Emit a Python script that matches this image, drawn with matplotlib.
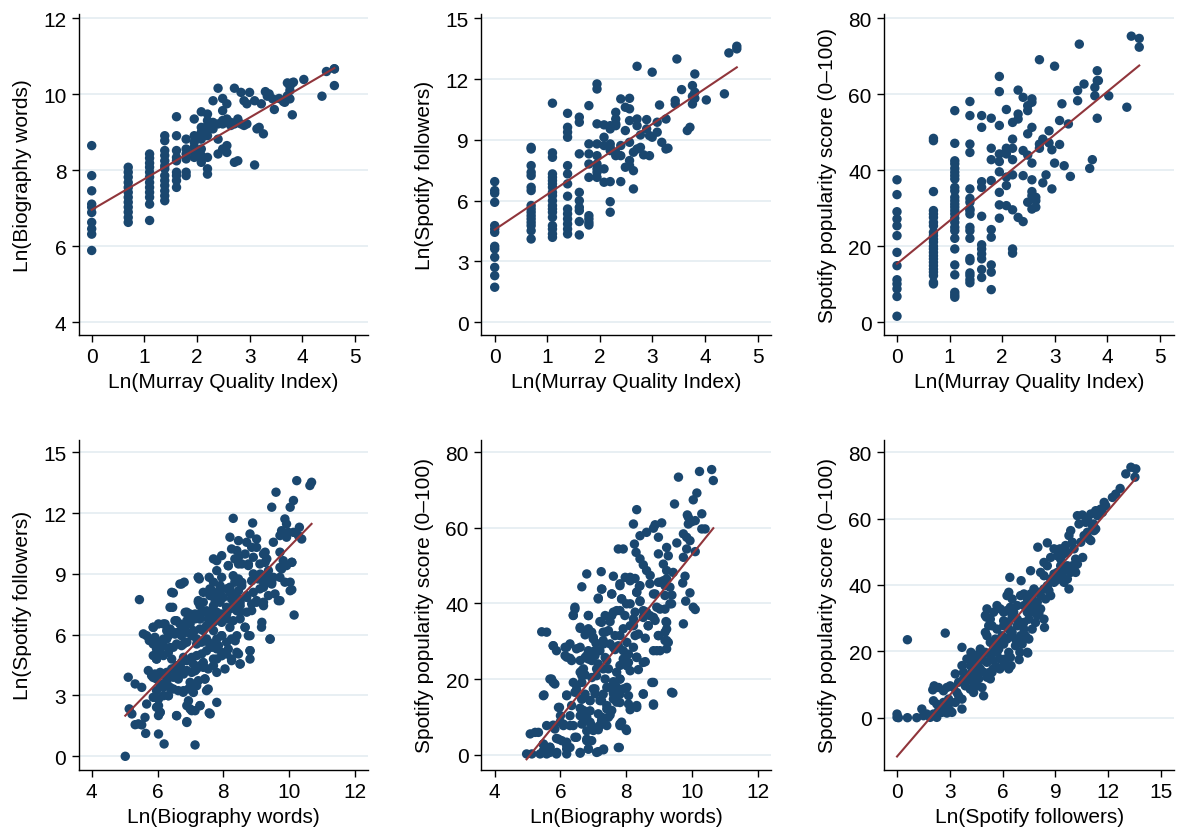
import numpy as np
import matplotlib
matplotlib.use("Agg")
import matplotlib.pyplot as plt

plt.rcParams['font.family'] = ['Liberation Sans', 'DejaVu Sans']

NAVY = '#1a476f'
MAROON = '#90353b'
GRID = '#e6eef2'

# ---- top row: one entry per Murray Quality Index value, points listed per column ----
mqi_cols = [1, 2, 3, 4, 5, 6, 7, 8, 9, 10, 11, 12, 13, 14, 15, 16, 17, 18, 19, 20,
            22, 23, 24, 25, 26, 27, 28, 29, 31, 32, 35, 38, 39, 41, 43, 45, 46, 56, 79, 86, 100]

bio_by_mqi = [
    [8.65, 7.86, 7.46, 7.11, 7.03, 6.89, 6.63, 6.46, 6.32, 5.89],
    [8.08, 7.95, 7.82, 7.68, 7.55, 7.42, 7.29, 7.16, 7.03, 6.9, 6.76, 6.63],
    [8.43, 8.32, 8.19, 8.08, 7.95, 7.82, 7.68, 7.55, 7.42, 7.29, 7.11, 6.68],
    [8.91, 8.78, 8.52, 8.39, 8.25, 8.12, 8.04, 7.86, 7.73, 7.6, 7.46, 7.33, 7.2],
    [9.41, 8.91, 8.52, 8.34, 8.25, 7.95, 7.86, 7.73, 7.55],
    [8.82, 8.56, 8.43, 8.3, 7.95, 7.86],
    [9.35, 8.91, 8.74, 8.61, 8.47, 8.34],
    [9.54, 9.13, 9.0, 8.82, 8.56, 8.39, 8.21],
    [9.48, 9.31, 9.18, 9.04, 8.91, 8.34, 8.04, 7.9],
    [9.83, 9.26, 9.18, 9.09],
    [10.16, 9.22, 8.82, 8.43],
    [9.89, 9.57, 9.31, 9.22, 8.56],
    [9.75, 9.35, 9.26, 8.65, 8.47],
    [9.26, 9.18],
    [10.16, 9.22, 8.21],
    [9.35, 8.25],
    [10.05, 9.22],
    [9.83, 9.18],
    [9.75, 9.22],
    [10.05],
    [9.83, 8.14],
    [9.09],
    [9.13],
    [9.75],
    [8.96],
    [10.07],
    [9.95],
    [10.01],
    [9.88],
    [9.6],
    [9.89],
    [9.81],
    [9.79],
    [10.3, 9.96],
    [10.21, 10.1, 9.88],
    [10.3, 9.46],
    [10.32],
    [10.39],
    [9.95],
    [10.6],
    [10.67, 10.23, 10.67],
]

followers_by_mqi = [
    [6.94, 6.5, 6.37, 5.92, 4.77, 4.6, 4.44, 3.75, 3.62, 3.21, 2.71, 2.3, 1.73],
    [8.63, 8.55, 7.73, 7.4, 7.24, 6.66, 6.5, 5.76, 5.59, 5.43, 5.26, 5.1, 4.93, 4.77, 4.52, 4.11],
    [10.81, 8.36, 8.14, 7.32, 7.15, 6.99, 6.83, 6.66, 6.41, 6.25, 6.0, 5.76, 5.59, 5.43, 5.18,
     4.77, 4.6, 4.36, 4.19],
    [10.31, 9.62, 9.38, 9.13, 7.73, 7.32, 6.83, 6.22, 5.59, 5.35, 5.1, 4.85, 4.6, 4.36],
    [10.12, 9.87, 8.31, 6.41, 6.0, 5.67, 5.51, 4.97, 4.31],
    [10.69, 8.8, 8.31, 7.81, 7.15, 5.26, 5.1, 4.93, 4.8],
    [11.76, 11.51, 9.79, 8.8, 8.22, 7.81, 7.57, 7.4, 7.15],
    [9.74, 9.13, 8.72, 7.57, 6.91],
    [9.7, 9.54, 8.8, 8.63, 8.47, 6.94, 5.95, 5.43],
    [10.36, 10.03, 9.79, 9.7, 8.39, 8.22],
    [11.02, 8.72, 8.22, 6.94],
    [10.61, 9.46, 7.65],
    [11.05, 10.53, 9.95, 8.88, 7.98, 7.73],
    [8.39, 7.48, 6.58],
    [12.63, 10.03, 9.7, 8.55],
    [9.24, 8.63],
    [8.26],
    [10.0, 9.54],
    [9.21, 8.22],
    [12.34, 9.13],
    [9.87, 9.38],
    [10.72],
    [8.88],
    [],
    [10.03, 8.55],
    [8.59],
    [],
    [],
    [10.94, 10.77],
    [12.99],
    [11.48],
    [],
    [9.46],
    [9.62],
    [11.68, 11.15, 10.77],
    [12.25, 11.35, 11.05],
    [],
    [10.97],
    [11.27],
    [13.29],
    [13.62, 13.49],
]

popularity_by_mqi = [
    [37.5, 33.6, 29.1, 27.2, 25.4, 22.8, 18.4, 14.9, 11.2, 10.1, 8.8, 6.8, 1.6],
    [48.4, 47.8, 34.4, 29.4, 28.5, 27.6, 26.3, 25.4, 23.7, 22.8, 21.9, 21.1, 20.0, 19.3, 18.4,
     17.5, 16.7, 15.8, 14.9, 14.0, 13.2, 12.3, 10.5, 10.1],
    [55.7, 47.1, 42.5, 41.7, 40.5, 39.5, 38.6, 37.7, 35.5, 34.6, 32.9, 32.0, 31.1, 30.3, 29.4,
     28.5, 27.4, 26.3, 25.0, 24.1, 22.1, 19.3, 15.1, 12.5, 7.9, 7.2, 6.6],
    [58.1, 54.4, 46.9, 44.7, 35.1, 32.6, 31.6, 29.8, 29.4, 28.5, 25.0, 24.1, 22.1, 16.8, 16.2,
     13.0, 12.3, 11.2, 10.4],
    [54.4, 51.3, 37.0, 35.5, 27.9, 20.4, 19.3, 18.0, 16.7, 13.9, 11.8],
    [53.7, 45.8, 42.8, 37.3, 24.4, 22.4, 15.1, 13.2, 8.6],
    [64.7, 60.7, 51.8, 44.3, 42.3, 39.6, 34.2, 30.9, 27.4],
    [56.0, 45.8, 45.2, 44.3, 38.2, 36.0, 30.7],
    [52.6, 48.2, 45.8, 42.8, 38.8, 29.6, 19.3, 18.2],
    [61.1, 54.8, 53.5, 27.6],
    [59.2, 45.2, 38.6, 26.5],
    [57.0, 55.7, 49.6, 44.0, 31.6],
    [58.8, 57.9, 51.3, 41.9, 37.5, 34.4, 33.3, 29.8],
    [32.9, 32.0, 30.3],
    [69.1, 46.9, 45.8],
    [48.2, 36.7],
    [38.8],
    [50.4, 47.2],
    [45.4, 35.1],
    [67.4, 41.9],
    [53.1, 46.8],
    [57.5],
    [41.2],
    [],
    [52.2],
    [38.4],
    [],
    [],
    [61.0, 58.3],
    [73.2],
    [62.7],
    [],
    [40.5],
    [42.8],
    [61.8, 59.6],
    [66.2, 63.6, 53.7],
    [63.6],
    [59.6],
    [56.6],
    [75.3],
    [74.7, 72.4],
]

# ---- bottom row: (x, y) pairs ----
bio_vs_followers = [
    (10.23, 13.60), (10.68, 13.52), (10.63, 13.36), (9.60, 13.03), (10.13, 12.62), (9.47, 12.29),
    (10.03, 12.29), (8.30, 11.74), (8.89, 11.51), (9.87, 11.71), (9.92, 11.46), (10.31, 11.30),
    (8.81, 10.97), (8.20, 10.81), (8.46, 10.64), (8.71, 10.56), (9.01, 10.72), (9.52, 10.56),
    (9.77, 11.13), (9.82, 10.97), (9.97, 11.05), (10.13, 11.05), (9.72, 10.89), (9.92, 10.81),
    (10.28, 10.89), (10.38, 10.72), (8.25, 10.23), (8.41, 10.15), (8.66, 9.98), (8.86, 10.31),
    (9.01, 10.31), (9.22, 9.98), (9.27, 10.07), (9.72, 10.07), (7.80, 9.65), (7.95, 9.90),
    (7.70, 9.74), (8.15, 9.41), (8.35, 9.74), (8.46, 9.82), (8.56, 9.49), (8.76, 9.41),
    (8.91, 9.82), (9.11, 9.49), (9.32, 9.74), (9.82, 9.65), (9.92, 9.41), (10.08, 9.57),
    (9.77, 9.24), (9.37, 9.16), (7.80, 9.16), (7.95, 8.83), (8.30, 8.91), (8.35, 8.59),
    (8.46, 8.75), (8.56, 8.42), (8.91, 9.00), (9.06, 8.75), (9.22, 8.59), (9.32, 8.91),
    (9.47, 8.59), (9.52, 8.83), (9.72, 8.83), (9.87, 8.59), (10.03, 8.59), (10.08, 8.22),
    (9.57, 8.01), (9.72, 7.68), (10.15, 6.97), (9.37, 7.93), (9.22, 8.34), (9.11, 8.26),
    (8.91, 8.09), (8.71, 7.93), (8.51, 7.76), (8.30, 7.93), (8.20, 8.09), (8.10, 8.26),
    (7.90, 8.42), (7.59, 8.26), (7.59, 7.93), (7.80, 7.93), (7.90, 8.17), (9.22, 7.60),
    (9.01, 7.60), (8.86, 7.52), (8.51, 7.11), (8.30, 7.43), (8.20, 7.27), (8.10, 7.35),
    (7.95, 7.02), (7.80, 7.11), (7.70, 6.94), (7.54, 6.78), (7.44, 7.11), (7.29, 7.02),
    (7.24, 7.60), (7.27, 8.75), (7.24, 8.83), (6.68, 8.50), (6.81, 8.59), (6.48, 8.06),
    (6.46, 7.35), (6.89, 7.11), (7.14, 6.78), (6.99, 6.53), (6.89, 6.69), (6.78, 6.45),
    (6.68, 6.53), (6.53, 6.69), (6.38, 6.28), (6.28, 6.20), (6.18, 6.53), (6.03, 6.53),
    (5.87, 6.37), (5.57, 6.04), (5.67, 5.95), (5.75, 5.71), (5.87, 5.54), (6.03, 5.63),
    (6.18, 5.46), (6.28, 5.79), (6.33, 5.95), (6.48, 6.12), (6.63, 6.12), (6.73, 5.95),
    (6.89, 6.12), (7.09, 6.20), (7.29, 6.28), (7.49, 6.45), (7.70, 6.61), (7.90, 6.69),
    (8.10, 6.78), (8.30, 6.69), (8.51, 6.78), (8.66, 6.37), (8.76, 5.95), (8.41, 5.95),
    (8.25, 5.79), (8.10, 5.63), (7.95, 5.95), (7.80, 5.79), (7.70, 5.54), (7.49, 5.79),
    (7.34, 5.63), (7.19, 5.79), (7.04, 5.95), (6.89, 5.63), (6.73, 5.46), (6.58, 5.54),
    (6.48, 5.38), (6.33, 5.13), (6.18, 4.97), (5.97, 4.80), (5.87, 4.97), (6.08, 5.13),
    (5.72, 4.23), (5.82, 3.98), (5.97, 3.82), (6.13, 4.06), (6.28, 4.14), (6.43, 4.31),
    (6.58, 4.47), (6.73, 4.64), (6.89, 4.72), (7.04, 4.88), (7.19, 4.97), (7.34, 5.05),
    (7.49, 5.21), (7.65, 5.38), (7.80, 5.30), (7.95, 5.13), (8.10, 5.05), (8.25, 4.80),
    (8.41, 5.13), (8.51, 4.56), (8.81, 5.21), (9.42, 5.79), (9.16, 6.37), (8.81, 4.80),
    (7.80, 4.80), (7.70, 4.47), (7.54, 4.31), (7.39, 4.39), (7.29, 4.47), (7.19, 4.31),
    (7.04, 4.14), (6.89, 4.23), (6.73, 4.31), (6.58, 4.14), (6.48, 3.90), (6.28, 3.65),
    (6.18, 3.40), (6.08, 3.57), (5.92, 4.06), (5.11, 3.90), (5.32, 3.57), (5.52, 3.40),
    (5.87, 2.91), (6.03, 2.83), (6.18, 2.99), (6.33, 2.99), (6.48, 3.32), (6.63, 3.24),
    (6.78, 3.16), (6.94, 3.32), (7.09, 3.49), (7.24, 3.73), (7.44, 3.82), (7.54, 3.32),
    (6.89, 2.50), (6.99, 2.34), (7.14, 2.25), (7.29, 2.50), (7.80, 2.66), (6.58, 2.01),
    (6.89, 1.71), (7.57, 2.14), (6.03, 2.01), (6.08, 2.17), (5.97, 2.42), (5.67, 2.58),
    (5.62, 1.92), (5.42, 1.60), (5.52, 1.55), (5.32, 1.56), (5.14, 2.34), (5.22, 2.09),
    (6.03, 1.10), (5.64, 1.13), (6.20, 0.61), (7.14, 0.56), (5.02, 0.00), (6.99, 7.02),
    (7.29, 7.43), (7.59, 7.11), (7.70, 7.43), (7.90, 7.60), (8.51, 7.43), (7.39, 8.09),
    (7.70, 8.59), (7.57, 8.83), (8.71, 7.11), (8.86, 7.19), (5.45, 7.73), (5.92, 5.87),
    (8.15, 9.40), (8.46, 9.49), (8.76, 9.49), (9.27, 9.57), (9.72, 9.32), (10.08, 9.57),
    (8.36, 8.75), (8.56, 8.58), (8.86, 8.66), (9.12, 8.99), (9.32, 8.58), (9.47, 8.50),
    (6.73, 8.50), (7.24, 8.83), (6.43, 8.09), (7.65, 8.17), (7.90, 8.25), (8.20, 8.34),
    (8.46, 8.17), (8.71, 7.84), (7.24, 7.68), (7.39, 7.60), (7.75, 7.68), (8.00, 7.84),
    (8.25, 7.76), (8.51, 7.60), (9.01, 7.68), (9.22, 7.43), (9.67, 7.68), (10.03, 8.17),
    (6.38, 7.35), (6.84, 7.10), (7.14, 7.02), (7.49, 7.18), (7.80, 7.02), (8.10, 7.02),
    (8.41, 7.18), (5.87, 6.36), (6.23, 6.53), (6.58, 6.69), (6.94, 6.69), (7.29, 6.77),
    (7.60, 6.69), (7.95, 6.61), (8.20, 6.36), (8.66, 6.36), (9.17, 6.61), (6.18, 5.78),
    (6.53, 6.03), (6.84, 6.20), (7.09, 6.11), (7.39, 6.20), (7.70, 6.20), (7.95, 5.95),
    (8.36, 5.70), (8.81, 5.95), (9.42, 5.78), (5.97, 5.29), (6.38, 5.37), (6.79, 5.54),
    (7.19, 5.54), (7.55, 5.62), (7.85, 5.46), (8.15, 5.29), (8.46, 5.05), (8.81, 5.21),
    (5.97, 4.80), (6.43, 4.80), (6.79, 4.88), (7.09, 4.55), (7.39, 4.63), (7.70, 4.80),
    (7.95, 4.96), (8.25, 4.72), (8.51, 4.55), (6.08, 4.14), (6.48, 4.31), (6.79, 4.06),
    (7.14, 4.22), (7.39, 4.47), (7.80, 4.14), (8.05, 4.31), (5.87, 3.89), (6.28, 3.81),
    (6.63, 3.81), (6.99, 3.65), (7.44, 3.81), (7.19, 3.48), (5.97, 3.24), (6.38, 3.40),
    (6.79, 3.24), (7.09, 3.15), (7.49, 3.24), (5.92, 2.91), (6.33, 2.99), (6.94, 2.74),
    (7.29, 2.50), (6.03, 2.50), (6.08, 2.17), (6.58, 2.00), (7.04, 2.25), (7.60, 2.09),
    (6.89, 1.67),
]

bio_vs_popularity = [
    (10.60, 75.4), (10.23, 74.9), (10.65, 72.5), (9.59, 73.4), (10.15, 69.2), (10.04, 67.4),
    (9.47, 66.3), (8.32, 64.8), (10.30, 63.7), (9.86, 63.4), (9.89, 62.8), (9.99, 61.6),
    (10.10, 61.9), (9.89, 61.0), (8.22, 61.0), (9.08, 61.3), (8.88, 60.8), (8.83, 59.9),
    (10.30, 59.7), (10.40, 59.7), (8.62, 58.8), (8.42, 57.9), (8.98, 57.5), (9.74, 58.4),
    (9.84, 57.5), (9.94, 56.6), (9.54, 56.0), (8.25, 55.7), (7.76, 54.4), (7.91, 54.4),
    (9.23, 54.8), (9.84, 54.4), (8.30, 53.5), (10.10, 53.7), (8.98, 53.1), (9.28, 52.6),
    (9.74, 52.2), (8.42, 51.8), (9.13, 50.4), (8.52, 50.2), (8.62, 48.7), (9.23, 48.7),
    (9.43, 48.2), (6.80, 47.8), (7.24, 48.4), (8.73, 47.4), (7.61, 47.2), (7.97, 46.9),
    (8.12, 46.9), (8.27, 46.6), (9.79, 47.2), (9.23, 46.5), (8.98, 45.6), (9.72, 45.4),
    (7.81, 44.7), (6.65, 44.4), (8.40, 44.5), (9.18, 44.7), (7.26, 43.8), (8.32, 42.9),
    (7.56, 42.5), (8.88, 42.5), (9.39, 42.2), (9.94, 42.8), (7.15, 41.4), (7.86, 41.2),
    (8.42, 40.5), (9.81, 40.6), (8.12, 39.9), (9.33, 39.9), (6.44, 39.0), (8.93, 39.0),
    (10.04, 39.0), (10.10, 38.4), (7.81, 38.1), (7.61, 37.7), (8.62, 37.7), (9.18, 38.5),
    (6.39, 36.9), (6.85, 36.8), (7.36, 36.8), (8.22, 35.9), (8.52, 36.3), (8.83, 36.3),
    (7.20, 35.2), (7.51, 35.2), (9.21, 35.2), (9.74, 34.6), (8.12, 34.1), (8.67, 34.1),
    (6.60, 33.4), (6.95, 32.4), (7.30, 32.4), (5.43, 32.5), (5.58, 32.4), (6.85, 32.8),
    (7.46, 32.8), (9.23, 33.2), (9.18, 32.4), (7.81, 31.5), (8.27, 31.5), (8.58, 30.8),
    (8.98, 31.5), (7.00, 30.6), (7.30, 30.2), (9.23, 30.2), (7.51, 29.3), (6.29, 29.3),
    (5.78, 28.8), (5.88, 27.5), (6.60, 28.4), (7.76, 28.8), (8.02, 29.7), (8.22, 28.4),
    (6.85, 27.5), (7.20, 27.5), (7.66, 27.8), (8.83, 27.5), (9.03, 27.5), (9.28, 29.7),
    (6.14, 26.2), (6.29, 25.5), (6.75, 25.7), (7.05, 26.2), (7.36, 25.7), (8.32, 25.7),
    (7.91, 25.3), (6.95, 24.9), (7.41, 24.9), (6.34, 24.9), (8.58, 24.6), (8.02, 23.5),
    (7.30, 22.7), (6.65, 22.2), (8.37, 22.5), (8.12, 22.2), (7.71, 21.8), (6.75, 21.1),
    (7.10, 20.9), (5.73, 20.0), (5.83, 18.7), (6.39, 19.1), (6.65, 19.1), (7.81, 20.0),
    (7.61, 19.3), (8.02, 17.8), (8.83, 19.1), (7.05, 17.4), (7.41, 17.8), (7.71, 17.8),
    (6.49, 17.2), (6.19, 15.8), (5.50, 15.8), (6.75, 16.0), (7.30, 16.0), (7.61, 16.5),
    (7.81, 16.0), (8.52, 16.0), (9.42, 16.3), (6.65, 14.7), (6.90, 14.3), (7.20, 14.3),
    (7.61, 14.7), (7.81, 13.8), (8.32, 13.0), (8.83, 13.1), (8.12, 11.9), (5.97, 12.5),
    (6.60, 12.3), (6.90, 11.6), (7.41, 12.1), (6.00, 10.3), (6.29, 10.3), (6.80, 9.9),
    (7.26, 9.9), (7.51, 10.5), (6.09, 8.1), (5.78, 7.8), (6.39, 7.7), (6.65, 8.1),
    (6.95, 7.7), (7.20, 7.8), (7.81, 8.1), (7.99, 6.8), (6.80, 6.3), (7.15, 6.6),
    (5.08, 5.5), (5.23, 5.9), (5.33, 5.9), (6.44, 4.6), (6.80, 3.7), (6.95, 3.7),
    (5.88, 4.3), (6.04, 3.7), (5.48, 2.8), (6.19, 2.4), (6.29, 1.9), (6.85, 1.5),
    (7.15, 0.8), (7.31, 1.3), (7.79, 1.9), (4.97, 0.2), (5.13, 0.2), (5.38, 0.2),
    (5.48, 1.1), (5.58, 0.2), (5.68, 0.6), (5.88, 0.2), (6.19, 0.2), (6.60, 0.4),
    (5.68, 1.9), (6.75, 31.7), (7.08, 29.5), (6.14, 28.4), (6.95, 20.4), (7.36, 20.0),
    (7.25, 43.8), (7.56, 42.5), (7.15, 41.2), (7.81, 45.2), (8.12, 46.0), (8.42, 44.7),
    (8.32, 43.0), (8.72, 45.2), (9.03, 45.6), (7.86, 41.2), (8.01, 39.9), (8.42, 40.7),
    (8.83, 42.5), (9.18, 42.1), (9.38, 39.9), (9.13, 46.0), (9.33, 44.3), (6.44, 38.5),
    (6.39, 36.8), (6.85, 36.8), (7.25, 35.0), (7.56, 36.8), (7.71, 38.1), (7.96, 36.8),
    (8.27, 37.7), (8.52, 38.1), (8.72, 36.8), (9.03, 38.5), (6.60, 33.7), (6.85, 33.3),
    (7.00, 31.0), (7.36, 32.4), (7.66, 31.5), (7.91, 33.3), (8.22, 34.1), (8.37, 31.9),
    (8.67, 34.1), (8.98, 31.5), (9.18, 30.2), (9.23, 35.0), (8.88, 35.5), (5.78, 28.8),
    (6.19, 28.4), (6.49, 28.0), (6.80, 26.2), (7.05, 27.5), (7.31, 29.3), (7.61, 28.4),
    (7.91, 27.5), (8.07, 26.6), (8.32, 25.8), (8.52, 24.4), (8.93, 27.5), (9.23, 28.0),
    (6.19, 25.8), (6.60, 24.9), (6.85, 25.3), (7.15, 24.0), (7.46, 22.7), (6.70, 22.7),
    (7.10, 22.7), (7.81, 23.6), (8.07, 24.4), (6.60, 21.8), (6.65, 20.9), (5.68, 20.0),
    (5.78, 19.1), (6.49, 18.3), (6.44, 16.5), (7.00, 17.4), (7.05, 16.1), (7.51, 17.8),
    (7.66, 18.3), (7.81, 20.0), (7.61, 16.1), (7.91, 17.4), (8.07, 15.6), (7.71, 13.9),
    (8.07, 13.4), (8.32, 12.5), (8.52, 16.1), (8.78, 19.1), (8.83, 13.4), (9.38, 16.5),
    (5.48, 15.6), (6.19, 15.6), (6.65, 14.7), (6.90, 14.3), (7.25, 14.3), (7.41, 13.0),
    (7.56, 11.7), (7.15, 10.8), (7.46, 9.9), (6.70, 11.7), (6.60, 10.3), (6.34, 13.0),
    (5.94, 12.5), (5.99, 8.6), (6.29, 7.7), (6.70, 8.6), (6.90, 8.6), (7.25, 9.0),
    (7.41, 7.7), (7.81, 7.7), (8.01, 6.4), (7.86, 8.6), (7.00, 6.4), (6.80, 4.1),
    (6.49, 4.6), (5.58, 7.7), (5.83, 6.8), (6.09, 7.7), (5.94, 4.1), (6.19, 3.3),
    (5.48, 2.8), (5.68, 2.0), (5.48, 0.6), (5.89, 0.6), (6.19, 1.5), (6.60, 0.6),
    (6.85, 1.5), (7.10, 0.6), (7.31, 1.5), (7.76, 1.9),
]

followers_vs_popularity = [
    (0.00, 1.1), (0.00, 0.1), (0.08, 0.0), (0.59, 0.0), (1.12, 0.0), (1.41, 2.6), (1.50, 0.6),
    (1.69, 1.1), (1.88, 0.1), (2.07, 1.1), (2.26, 0.1), (2.36, 2.1), (2.55, 1.6), (2.68, 2.6),
    (2.83, 3.6), (3.02, 2.1), (3.06, 4.6), (2.93, 5.6), (2.64, 4.6), (2.26, 4.1), (2.07, 5.1),
    (2.11, 9.6), (2.03, 8.4), (2.36, 9.1), (2.64, 8.1), (2.83, 9.1), (3.02, 9.6), (3.21, 9.1),
    (3.40, 7.6), (3.50, 6.6), (3.69, 2.6), (3.69, 5.6), (3.31, 4.6), (3.50, 10.7), (3.31, 13.2),
    (3.69, 15.7), (3.78, 13.7), (3.69, 21.2), (4.20, 19.7), (3.97, 17.7), (4.16, 15.7),
    (3.78, 11.7), (3.88, 9.6), (4.16, 8.6), (4.35, 7.6), (4.54, 9.6), (4.64, 11.7), (4.83, 9.1),
    (4.92, 6.6), (4.35, 11.7), (4.26, 13.7), (4.54, 13.7), (4.73, 14.7), (4.92, 13.7),
    (5.11, 12.2), (5.30, 11.7), (5.27, 13.7), (5.46, 14.7), (5.68, 15.2), (5.84, 14.7),
    (6.06, 15.7), (6.35, 14.7), (6.48, 15.7), (6.44, 18.2), (6.16, 17.7), (5.87, 17.7),
    (5.49, 17.2), (5.11, 16.7), (4.83, 17.7), (4.64, 19.2), (4.73, 20.7), (5.02, 19.7),
    (5.30, 18.7), (5.49, 19.7), (5.78, 20.7), (6.06, 22.2), (6.35, 19.7), (6.25, 23.7),
    (5.97, 24.7), (5.59, 23.7), (5.30, 22.7), (5.11, 24.7), (5.02, 25.7), (5.21, 27.7),
    (5.40, 27.7), (5.68, 26.7), (6.06, 27.7), (6.35, 26.7), (6.54, 25.7), (6.73, 23.7),
    (7.02, 24.7), (7.11, 22.2), (7.40, 19.7), (7.43, 19.5), (6.94, 17.5), (6.98, 19.7),
    (7.21, 26.7), (7.02, 28.7), (6.83, 29.7), (6.63, 31.8), (6.44, 33.3), (6.25, 32.3),
    (6.06, 31.8), (5.87, 32.8), (5.68, 33.8), (5.49, 31.8), (5.30, 29.7), (5.11, 32.8),
    (5.02, 30.8), (6.25, 36.8), (6.35, 37.8), (6.41, 42.3), (7.05, 41.3), (7.59, 44.3),
    (7.21, 37.3), (7.40, 35.8), (7.59, 33.8), (7.78, 31.8), (7.49, 29.7), (7.21, 28.7),
    (7.97, 30.8), (8.38, 27.2), (7.97, 34.8), (8.16, 36.8), (8.35, 38.8), (8.06, 37.8),
    (8.54, 39.8), (8.73, 41.8), (8.92, 43.3), (8.35, 42.8), (8.16, 43.8), (8.54, 45.8),
    (8.35, 46.8), (8.73, 48.3), (9.11, 48.8), (9.30, 45.8), (9.11, 43.8), (9.39, 42.8),
    (9.68, 41.8), (9.77, 38.8), (9.49, 40.8), (8.92, 40.8), (8.00, 51.4), (8.54, 52.7),
    (8.92, 50.9), (9.30, 47.8), (9.68, 49.8), (9.58, 51.9), (9.77, 54.9), (9.87, 56.4),
    (9.96, 52.9), (10.06, 50.9), (10.15, 47.8), (10.25, 46.3), (10.06, 45.3), (10.55, 48.3),
    (10.44, 52.9), (10.63, 54.9), (10.82, 55.9), (10.91, 53.9), (11.01, 53.4), (11.20, 56.4),
    (11.10, 57.9), (10.72, 58.9), (10.34, 58.4), (10.25, 60.9), (10.53, 61.1), (10.82, 59.9),
    (11.01, 61.4), (11.29, 62.4), (11.39, 60.9), (11.58, 62.9), (11.77, 64.9), (11.86, 63.9),
    (11.67, 61.9), (11.29, 56.9), (11.16, 58.4), (12.24, 66.4), (12.43, 67.4), (12.68, 69.1),
    (13.00, 73.5), (13.29, 75.5), (13.57, 75.0), (13.52, 72.5), (6.35, 28.9), (6.54, 30.8),
    (6.83, 33.8), (7.02, 36.8), (7.21, 33.8), (7.59, 37.3), (7.78, 38.8), (6.83, 27.7),
    (7.68, 26.7), (8.16, 32.8), (8.35, 29.7), (6.54, 35.8), (6.06, 29.2), (6.44, 24.7),
    (7.30, 24.7), (7.49, 23.7), (7.40, 31.8), (7.87, 28.7), (7.68, 35.8), (4.35, 17.7),
    (4.64, 16.7), (5.49, 20.7), (5.68, 22.7), (4.54, 15.7), (3.97, 11.7), (4.22, 11.2),
    (4.45, 10.2), (5.40, 13.7), (5.68, 19.7), (6.73, 21.7), (7.02, 23.2), (7.68, 32.3),
    (7.87, 33.3), (8.06, 31.3), (8.73, 36.8), (8.44, 35.8), (8.63, 38.3), (9.01, 41.3),
    (9.20, 41.8), (9.49, 44.3), (9.68, 45.8), (9.96, 45.8), (10.15, 43.8), (9.87, 43.8),
    (9.26, 50.9), (9.45, 49.3), (0.59, 23.5), (2.74, 25.5), (5.08, 30.3), (3.12, 1.6),
    (2.83, 1.4),
]

# fitted lines: (intercept, slope)
fit_bio_mqi = (6.96, 0.81)
fit_followers_mqi = (4.57, 1.739)
fit_popularity_mqi = (15.4, 11.33)
fit_followers_bio = (-6.39, 1.672)
fit_popularity_bio = (-54.7, 10.76)
fit_popularity_followers = (-11.7, 6.18)

FS = 15


def flatten_cols(cols, values):
    xs, ys = [], []
    for m, vals in zip(cols, values):
        for v in vals:
            xs.append(np.log(m))
            ys.append(v)
    return np.array(xs), np.array(ys)


def panel(rect, x, y, fit, xlim, ylim, xticks, yticks, xlabel, ylabel):
    W, H = 1178, 829
    l, t, r, b = rect
    ax = fig.add_axes([l / W, 1 - b / H, (r - l) / W, (b - t) / H])
    ax.scatter(x, y, s=46, color=NAVY, edgecolors='none', zorder=3, clip_on=False)
    xs = np.array([x.min(), x.max()])
    ax.plot(xs, fit[0] + fit[1] * xs, color=MAROON, lw=1.5, zorder=4)
    ax.set_xlim(*xlim)
    ax.set_ylim(*ylim)
    ax.set_xticks(xticks)
    ax.set_yticks(yticks)
    ax.yaxis.grid(True, color=GRID, lw=1.3, zorder=0)
    ax.set_axisbelow(True)
    for s in ['top', 'right']:
        ax.spines[s].set_visible(False)
    for s in ['left', 'bottom']:
        ax.spines[s].set_linewidth(1.0)
    ax.tick_params(direction='out', length=5, width=1.0, labelsize=FS, pad=4)
    ax.set_xlabel(xlabel, fontsize=FS, labelpad=4)
    ax.set_ylabel(ylabel, fontsize=FS, labelpad=8)
    return ax


fig = plt.figure(figsize=(11.78, 8.29), dpi=100)

x1, y1 = flatten_cols(mqi_cols, bio_by_mqi)
x2, y2 = flatten_cols(mqi_cols, followers_by_mqi)
x3, y3 = flatten_cols(mqi_cols, popularity_by_mqi)
p4 = np.array(bio_vs_followers)
p5 = np.array(bio_vs_popularity)
p6 = np.array(followers_vs_popularity)

mqi_label = 'Ln(Murray Quality Index)'
bio_label = 'Ln(Biography words)'
fol_label = 'Ln(Spotify followers)'
pop_label = 'Spotify popularity score (0\u2013100)'

panel((79, 15, 368, 336), x1, y1, fit_bio_mqi, (-0.241, 5.243), (3.666, 12.113),
      range(0, 6), [4, 6, 8, 10, 12], mqi_label, bio_label)
panel((481.3, 15, 770.7, 336), x2, y2, fit_followers_mqi, (-0.255, 5.25), (-0.627, 15.21),
      range(0, 6), [0, 3, 6, 9, 12, 15], mqi_label, fol_label)
panel((884, 15, 1174, 336), x3, y3, fit_popularity_mqi, (-0.247, 5.266), (-3.34, 81.13),
      range(0, 6), [0, 20, 40, 60, 80], mqi_label, pop_label)
panel((78.7, 440.7, 368, 770.7), p4[:, 0], p4[:, 1], fit_followers_bio, (3.605, 12.395),
      (-0.661, 15.62), [4, 6, 8, 10, 12], [0, 3, 6, 9, 12, 15], bio_label, fol_label)
panel((481.3, 440.7, 770.7, 770.7), p5[:, 0], p5[:, 1], fit_popularity_bio, (3.592, 12.396),
      (-3.97, 83.3), [4, 6, 8, 10, 12], [0, 20, 40, 60, 80], bio_label, pop_label)
panel((884.3, 440.7, 1174, 770.7), p6[:, 0], p6[:, 1], fit_popularity_followers, (-0.724, 15.74),
      (-15.68, 83.8), [0, 3, 6, 9, 12, 15], [0, 20, 40, 60, 80], fol_label, pop_label)

fig.savefig('out.png', dpi=100, facecolor='white')
